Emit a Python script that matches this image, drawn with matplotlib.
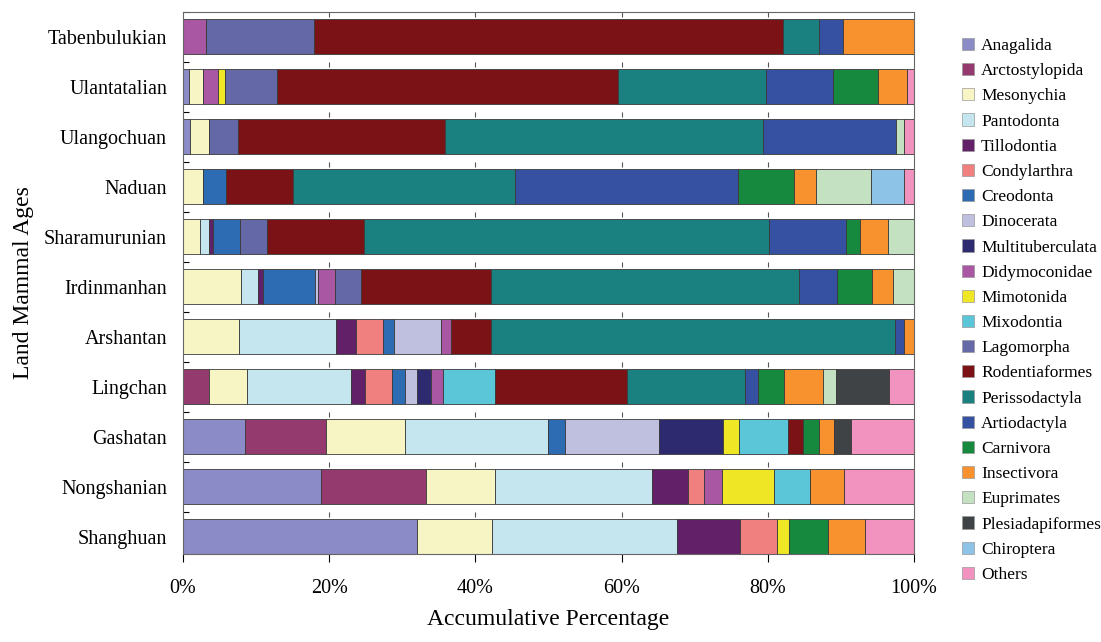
import numpy as np
import matplotlib
matplotlib.use("Agg")
from matplotlib import pyplot as plt
from matplotlib.patches import Patch

plt.rcParams['font.family'] = ['Liberation Serif', 'DejaVu Serif']

# land mammal ages, top to bottom
ages = ["Tabenbulukian", "Ulantatalian", "Ulangochuan", "Naduan", "Sharamurunian",
        "Irdinmanhan", "Arshantan", "Lingchan", "Gashatan", "Nongshanian", "Shanghuan"]

# percentage of each group per age (same order as ages)
anagalida        = [0, 0.8, 1.0, 0, 0, 0, 0, 0, 8.5, 18.9, 32.1]
arctostylopida   = [0, 0, 0, 0, 0, 0, 0, 3.5, 11.0, 14.3, 0]
mesonychia       = [0, 1.9, 2.6, 2.8, 2.3, 8.0, 7.7, 5.2, 10.9, 9.5, 10.2]
pantodonta       = [0, 0, 0, 0, 1.2, 2.3, 13.2, 14.3, 19.5, 21.4, 25.4]
tillodontia      = [0, 0, 0, 0, 0.6, 0.6, 2.7, 1.9, 0, 4.9, 8.6]
condylarthra     = [0, 0, 0, 0, 0, 0, 3.8, 3.6, 0, 2.2, 5.1]
creodonta        = [0, 0, 0, 3.1, 3.7, 7.1, 1.5, 1.9, 2.4, 0, 0]
dinocerata       = [0, 0, 0, 0, 0, 0.5, 6.4, 1.6, 12.8, 0, 0]
multituberculata = [0, 0, 0, 0, 0, 0, 0, 1.9, 8.8, 0, 0]
didymoconidae    = [3.1, 2.1, 0, 0, 0, 2.3, 1.4, 1.7, 0, 2.4, 0]
mimotonida       = [0, 1.0, 0, 0, 0, 0, 0, 0, 2.2, 7.2, 1.6]
mixodontia       = [0, 0, 0, 0, 0, 0, 0, 7.1, 6.6, 4.9, 0]
lagomorpha       = [14.8, 7.0, 3.9, 0, 3.7, 3.6, 0, 0, 0, 0, 0]
rodentiaformes   = [64.1, 46.7, 28.4, 9.2, 13.2, 17.7, 5.4, 18.0, 2.1, 0, 0]
perissodactyla   = [4.9, 20.2, 43.5, 30.3, 55.4, 42.2, 55.3, 16.1, 0, 0, 0]
artiodactyla     = [3.3, 9.1, 18.1, 30.4, 10.6, 5.2, 1.3, 1.75, 0, 0, 0]
carnivora        = [0, 6.2, 0, 7.7, 1.9, 4.8, 0, 3.6, 2.2, 0, 5.3]
insectivora      = [9.7, 3.9, 0, 3.0, 3.8, 2.8, 1.3, 5.3, 2.1, 4.7, 5.1]
euprimates       = [0, 0, 1.2, 7.5, 3.6, 2.9, 0, 1.75, 0, 0, 0]
plesiadapiformes = [0, 0, 0, 0, 0, 0, 0, 7.3, 2.3, 0, 0]
chiroptera       = [0, 0, 0, 4.5, 0, 0, 0, 0, 0, 0, 0]
others           = [0, 1.0, 1.3, 1.4, 0, 0, 0, 3.4, 8.6, 9.5, 6.7]

groups = ["Anagalida", "Arctostylopida", "Mesonychia", "Pantodonta", "Tillodontia",
          "Condylarthra", "Creodonta", "Dinocerata", "Multituberculata", "Didymoconidae",
          "Mimotonida", "Mixodontia", "Lagomorpha", "Rodentiaformes", "Perissodactyla",
          "Artiodactyla", "Carnivora", "Insectivora", "Euprimates", "Plesiadapiformes",
          "Chiroptera", "Others"]
values = [anagalida, arctostylopida, mesonychia, pantodonta, tillodontia, condylarthra,
          creodonta, dinocerata, multituberculata, didymoconidae, mimotonida, mixodontia,
          lagomorpha, rodentiaformes, perissodactyla, artiodactyla, carnivora, insectivora,
          euprimates, plesiadapiformes, chiroptera, others]
colors = ["#8B8CC7", "#953A6E", "#F8F5C5", "#C5E6EF", "#622068", "#F07F80", "#2D6BB3",
          "#BFBFDF", "#2D2A6F", "#A957A2", "#EFE626", "#5BC6D7", "#6468A6", "#7B1316",
          "#1B8080", "#3651A2", "#17893F", "#F7922E", "#C4E2C1", "#404345", "#8EC3E8",
          "#F192BF"]

data = np.array(values, dtype=float)
data = data / data.sum(axis=0) * 100  # each age sums to 100 %

fig = plt.figure(figsize=(11.01, 6.42), dpi=100)
ax = fig.add_axes([183 / 1101, 1 - 554 / 642, (914 - 183) / 1101, (554 - 11.7) / 642])

y = np.arange(len(ages))[::-1]
left = np.zeros(len(ages))
for name, row, c in zip(groups, data, colors):
    ax.barh(y, row, left=left, height=0.7, color=c, edgecolor="#3a3a3a", linewidth=0.6)
    left += row

ax.set_xlim(0, 100)
ax.set_ylim(-0.35, 10.5)
ax.set_yticks(y)
ax.set_yticklabels(ages, fontsize=14.5)
ax.set_yticks(np.arange(len(ages)) + 0.5, minor=True)
ax.tick_params(axis="y", which="major", length=0, pad=11.5)
ax.tick_params(axis="y", which="minor", direction="in", length=4, width=0.8)
ax.set_xticks([0, 20, 40, 60, 80, 100])
ax.set_xticklabels(["0%", "20%", "40%", "60%", "80%", "100%"], fontsize=14.5)
ax.tick_params(axis="x", direction="out", length=6, width=0.8, pad=12)

# little tick marks at the top of each band
for b in np.arange(len(ages)) + 0.5:
    ax.vlines([20, 40, 60, 80], b - 0.1, b, color="#555555", linewidth=0.8)

for s in ax.spines.values():
    s.set_color("#666666")
    s.set_linewidth(0.8)

ax.set_xlabel("Accumulative Percentage", fontsize=17, labelpad=8)
ax.set_ylabel("Land Mammal Ages", fontsize=17, labelpad=7)

handles = [Patch(facecolor=c, edgecolor="#999999", linewidth=0.5) for c in colors]
fig.legend(handles, groups, loc="upper left", bbox_to_anchor=(955 / 1101, 1 - 31 / 642),
           frameon=False, fontsize=12.5, handlelength=0.7, handleheight=0.7,
           handletextpad=0.4, labelspacing=0.52, borderaxespad=0)

fig.savefig("out.png", dpi=100)
